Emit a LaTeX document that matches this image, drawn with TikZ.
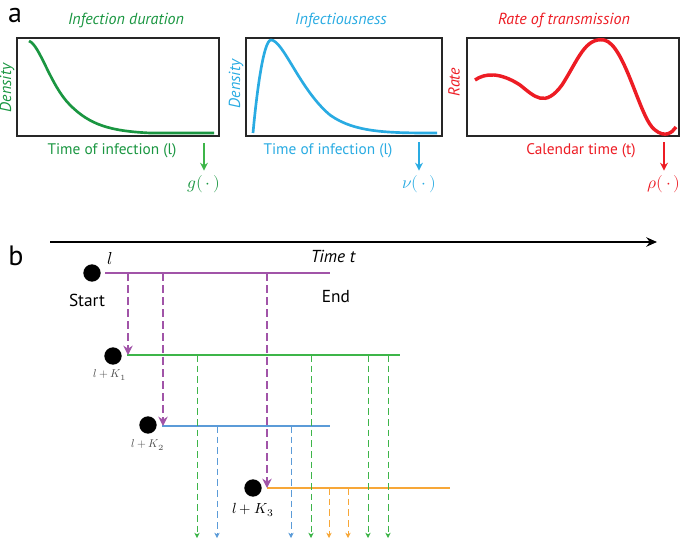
\documentclass[tikz,border=0pt]{standalone}
\usepackage{fontspec}
\setmainfont{PT Sans}
\usepackage{unicode-math}
\usetikzlibrary{arrows.meta}
\definecolor{gA}{HTML}{1A9641}
\definecolor{bA}{HTML}{29ABE2}
\definecolor{rA}{HTML}{ED1C24}
\definecolor{pu}{HTML}{A154A8}
\definecolor{gr}{HTML}{3DB549}
\definecolor{bl}{HTML}{5B9BD8}
\definecolor{or}{HTML}{F7A738}
\tikzset{
 panel/.style={draw=black!85,line width=1.3pt},
 curve/.style={line width=2pt},
 ttl/.style={font=\itshape\fontsize{12}{13}\selectfont},
 axl/.style={font=\fontsize{11.5}{13}\selectfont},
 dwn/.style={-{Stealth[length=6pt,width=6pt]},line width=1.5pt},
 dot/.style={circle,fill=black,inner sep=0pt,minimum size=13pt},
 pline/.style={line width=1.8pt},
 pdash/.style={line width=1.8pt,dash pattern=on 6pt off 3pt,-{Stealth[length=7pt,width=7pt]}},
 tdash/.style={dash pattern=on 5pt off 3pt,line width=0.6pt,-{Stealth[length=4pt,width=4pt]}},
}
\begin{document}
\begin{tikzpicture}[x=0.75pt,y=-0.75pt]
\useasboundingbox (0,0) rectangle (685,543);
% panel a
\node[font=\fontsize{21}{22}\selectfont] (la) at (15,15) {a};
\node[panel,minimum width=202*0.75pt,minimum height=98*0.75pt,inner sep=0pt,anchor=north west] (b1) at (16,37) {};
\node[panel,minimum width=196*0.75pt,minimum height=98*0.75pt,inner sep=0pt,anchor=north west] (b2) at (245,37) {};
\node[panel,minimum width=212*0.75pt,minimum height=98*0.75pt,inner sep=0pt,anchor=north west] (b3) at (466,37) {};
\node[ttl,text=gA] (t1) at (126,20) {Infection duration};
\node[ttl,text=bA] (t2) at (341,20) {Infectiousness};
\node[ttl,text=rA] (t3) at (564,20) {Rate of transmission};
\node[ttl,text=gA,rotate=90] (d1) at (7,88) {Density};
\node[ttl,text=bA,rotate=90] (d2) at (236,84) {Density};
\node[ttl,text=rA,rotate=90] (d3) at (454,82) {Rate};
\node[axl,text=gA] (x1) at (112,151) {Time of infection (l)};
\node[axl,text=bA] (x2) at (328,151) {Time of infection (l)};
\node[axl,text=rA] (x3) at (581,151) {Calendar time (t)};
\node[text=gA,font=\fontsize{13}{14}\selectfont] (g) at (204,184) {$g(\,\cdot\,)$};
\node[text=bA,font=\fontsize{13}{14}\selectfont] (nu) at (419,184) {$\nu(\,\cdot\,)$};
\node[text=rA,font=\fontsize{13}{14}\selectfont] (rho) at (664,184) {$\rho(\,\cdot\,)$};
\draw[dwn,draw=gr] (204,143) -- (g.north);
\draw[dwn,draw=bA] (419,142) -- (nu.north);
\draw[dwn,draw=rA] (664,142) -- (rho.north);
\draw[curve,gA] (29,41) .. controls (40,45) and (50,85) .. (70,105) .. controls (90,125) and (110,131) .. (150,133) -- (214,133);
\draw[curve,bA] (253,133) .. controls (256,100) and (263,40) .. (271,40) .. controls (283,40) and (300,90) .. (330,115) .. controls (355,133) and (390,133) .. (437,133);
\draw[curve,rA,line width=2.6pt] (475,80) .. controls (485,73) and (500,72) .. (520,85) .. controls (535,97) and (545,108) .. (562,85) .. controls (578,60) and (585,37) .. (604,40) .. controls (625,44) and (640,120) .. (655,130) .. controls (665,138) and (672,133) .. (676,127);
% panel b
\node[font=\fontsize{21}{22}\selectfont] (lb) at (16,256) {b};
\coordinate (ta) at (50,242);
\coordinate (tb) at (657,242);
\draw[line width=1.4pt,-{Stealth[length=8pt,width=7pt]}] (ta) -- (tb);
\node[font=\itshape\fontsize{13}{14}\selectfont] (tt) at (333,256) {Time $\mathit{t}$};
% rows
\node[dot] (s0) at (92,273) {};
\node[dot] (s1) at (113,356) {};
\node[dot] (s2) at (148,425) {};
\node[dot] (s3) at (253,488) {};
\node[font=\fontsize{13}{14}\selectfont] (ll) at (110,259) {$l$};
\node[font=\fontsize{13}{14}\selectfont] (st) at (87,300) {Start};
\node[font=\fontsize{13}{14}\selectfont] (en) at (336,297) {End};
\node[text=black!70,font=\fontsize{8.5}{9}\selectfont] (k1) at (110,375) {$l+K_1$};
\node[text=black!70,font=\fontsize{8.5}{9}\selectfont] (k2) at (148,445) {$l+K_2$};
\node[font=\fontsize{11}{12}\selectfont] (k3) at (253,510) {$l+K_3$};
\coordinate (p0a) at (105,273); \coordinate (p0b) at (330,273);
\coordinate (p1a) at (127,355); \coordinate (p1b) at (400,355);
\coordinate (p2a) at (162,426); \coordinate (p2b) at (330,426);
\coordinate (p3a) at (267,488); \coordinate (p3b) at (450,488);
\draw[pline,pu] (p0a) -- (p0b);
\draw[pline,gr] (p1a) -- (p1b);
\draw[pline,bl] (p2a) -- (p2b);
\draw[pline,or] (p3a) -- (p3b);
\draw[pdash,pu] (128,273) -- (128,355);
\draw[pdash,pu] (163,273) -- (163,426);
\draw[pdash,pu] (267,273) -- (267,488);
\foreach \x in {197,311,368,388} \draw[tdash,gr] (\x,355) -- (\x,538);
\foreach \x in {217,291} \draw[tdash,bl] (\x,426) -- (\x,538);
\foreach \x in {329,348} \draw[tdash,or] (\x,488) -- (\x,538);
\end{tikzpicture}
\end{document}
